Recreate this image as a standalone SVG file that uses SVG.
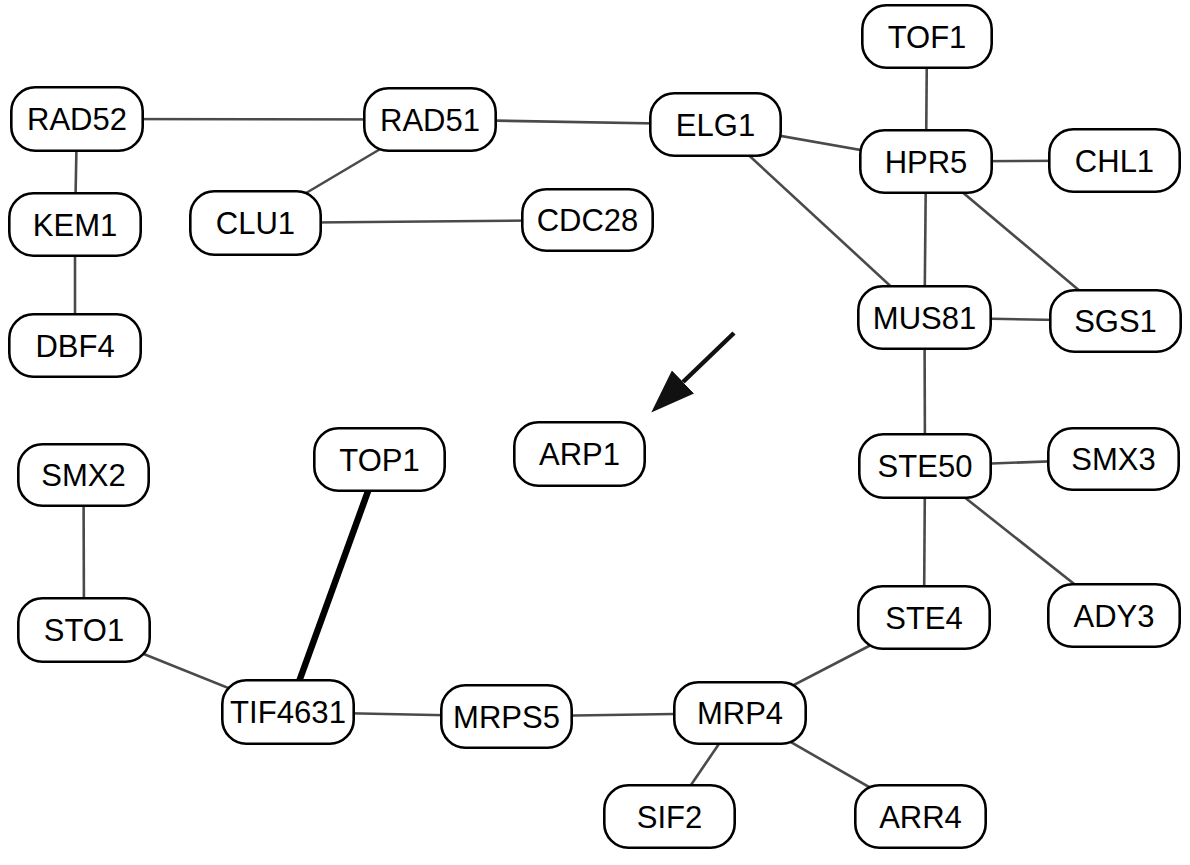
<svg xmlns="http://www.w3.org/2000/svg" width="1190" height="865" viewBox="0 0 1190 865">
<style>
.n rect{fill:#fff;stroke:#000;stroke-width:2.6}
.n text{font-family:"Liberation Sans",Arial,sans-serif;font-size:31px;fill:#000;text-anchor:middle}
.e line{stroke:#4a4a4a;stroke-width:2.6}
.e line.thick{stroke:#000;stroke-width:6.5}
</style>
<defs>
<marker id="ah" viewBox="0 -16 44 32" refX="0" refY="0" markerWidth="44" markerHeight="32" markerUnits="userSpaceOnUse" orient="auto">
<path d="M0,-16 L44,0 L0,16 z" fill="#111"/>
</marker>
</defs>
<rect width="1190" height="865" fill="#fff"/>
<g id="connectors" class="e">
<line x1="77" y1="119" x2="430" y2="119.5"/>
<line x1="77" y1="119" x2="75" y2="224.5"/>
<line x1="75" y1="224.5" x2="75" y2="345.5"/>
<line x1="430" y1="119.5" x2="255.5" y2="223"/>
<line x1="255.5" y1="223" x2="587.5" y2="220"/>
<line x1="430" y1="119.5" x2="715.5" y2="124.5"/>
<line x1="715.5" y1="124.5" x2="926" y2="161.5"/>
<line x1="715.5" y1="124.5" x2="924.5" y2="317.5"/>
<line x1="927" y1="36.5" x2="926" y2="161.5"/>
<line x1="926" y1="161.5" x2="1114.5" y2="160.5"/>
<line x1="926" y1="161.5" x2="924.5" y2="317.5"/>
<line x1="926" y1="161.5" x2="1115.5" y2="321"/>
<line x1="924.5" y1="317.5" x2="1115.5" y2="321"/>
<line x1="924.5" y1="317.5" x2="925" y2="466"/>
<line x1="925" y1="466" x2="1113.5" y2="459"/>
<line x1="925" y1="466" x2="924" y2="617.5"/>
<line x1="925" y1="466" x2="1114" y2="615.5"/>
<line x1="924" y1="617.5" x2="740" y2="713"/>
<line x1="740" y1="713" x2="669.5" y2="816.5"/>
<line x1="740" y1="713" x2="920.5" y2="816.5"/>
<line x1="506.5" y1="716.5" x2="740" y2="713"/>
<line x1="288" y1="712" x2="506.5" y2="716.5"/>
<line x1="84" y1="630" x2="288" y2="712"/>
<line x1="83.5" y1="475" x2="84" y2="630"/>
<line class="thick" x1="379.5" y1="459.5" x2="288" y2="712"/>
</g>
<g id="arrow">
<line x1="734" y1="333" x2="683" y2="382" stroke="#111" stroke-width="4.5" marker-end="url(#ah)"/>
</g>
<g id="RAD52" class="n"><rect x="11.3" y="87.3" width="131.4" height="63.4" rx="24"/><text x="77" y="130">RAD52</text></g>
<g id="KEM1" class="n"><rect x="9.3" y="193.3" width="131.4" height="62.4" rx="24"/><text x="75" y="235.5">KEM1</text></g>
<g id="DBF4" class="n"><rect x="9.3" y="314.3" width="131.4" height="62.4" rx="24"/><text x="75" y="356.5">DBF4</text></g>
<g id="CLU1" class="n"><rect x="190.3" y="191.3" width="130.4" height="63.4" rx="24"/><text x="255.5" y="234">CLU1</text></g>
<g id="RAD51" class="n"><rect x="364.3" y="88.3" width="131.4" height="62.4" rx="24"/><text x="430" y="130.5">RAD51</text></g>
<g id="CDC28" class="n"><rect x="522.3" y="189.3" width="130.4" height="61.4" rx="24"/><text x="587.5" y="231">CDC28</text></g>
<g id="ELG1" class="n"><rect x="650.3" y="93.3" width="130.4" height="62.4" rx="24"/><text x="715.5" y="135.5">ELG1</text></g>
<g id="TOF1" class="n"><rect x="862.3" y="5.3" width="129.4" height="62.4" rx="24"/><text x="927" y="47.5">TOF1</text></g>
<g id="HPR5" class="n"><rect x="860.3" y="130.3" width="131.4" height="62.4" rx="24"/><text x="926" y="172.5">HPR5</text></g>
<g id="CHL1" class="n"><rect x="1049.3" y="129.3" width="130.4" height="62.4" rx="24"/><text x="1114.5" y="171.5">CHL1</text></g>
<g id="MUS81" class="n"><rect x="858.3" y="286.3" width="132.4" height="62.4" rx="24"/><text x="924.5" y="328.5">MUS81</text></g>
<g id="SGS1" class="n"><rect x="1050.3" y="290.3" width="130.4" height="61.4" rx="24"/><text x="1115.5" y="332">SGS1</text></g>
<g id="ARP1" class="n"><rect x="514.3" y="422.3" width="130.4" height="63.4" rx="24"/><text x="579.5" y="465">ARP1</text></g>
<g id="STE50" class="n"><rect x="859.3" y="434.3" width="131.4" height="63.4" rx="24"/><text x="925" y="477">STE50</text></g>
<g id="SMX3" class="n"><rect x="1048.3" y="428.3" width="130.4" height="61.4" rx="24"/><text x="1113.5" y="470">SMX3</text></g>
<g id="STE4" class="n"><rect x="858.3" y="586.3" width="131.4" height="62.4" rx="24"/><text x="924" y="628.5">STE4</text></g>
<g id="ADY3" class="n"><rect x="1048.3" y="584.3" width="131.4" height="62.4" rx="24"/><text x="1114" y="626.5">ADY3</text></g>
<g id="SMX2" class="n"><rect x="18.3" y="444.3" width="130.4" height="61.4" rx="24"/><text x="83.5" y="486">SMX2</text></g>
<g id="STO1" class="n"><rect x="18.3" y="598.3" width="131.4" height="63.4" rx="24"/><text x="84" y="641">STO1</text></g>
<g id="TOP1" class="n"><rect x="314.3" y="428.3" width="130.4" height="62.4" rx="24"/><text x="379.5" y="470.5">TOP1</text></g>
<g id="TIF4631" class="n"><rect x="222.3" y="680.3" width="131.4" height="63.4" rx="24"/><text x="288" y="723" textLength="116" lengthAdjust="spacingAndGlyphs">TIF4631</text></g>
<g id="MRPS5" class="n"><rect x="441.3" y="685.3" width="130.4" height="62.4" rx="24"/><text x="506.5" y="727.5">MRPS5</text></g>
<g id="MRP4" class="n"><rect x="674.3" y="682.3" width="131.4" height="61.4" rx="24"/><text x="740" y="724">MRP4</text></g>
<g id="SIF2" class="n"><rect x="604.3" y="785.3" width="130.4" height="62.4" rx="24"/><text x="669.5" y="827.5">SIF2</text></g>
<g id="ARR4" class="n"><rect x="855.3" y="785.3" width="130.4" height="62.4" rx="24"/><text x="920.5" y="827.5">ARR4</text></g>
</svg>
